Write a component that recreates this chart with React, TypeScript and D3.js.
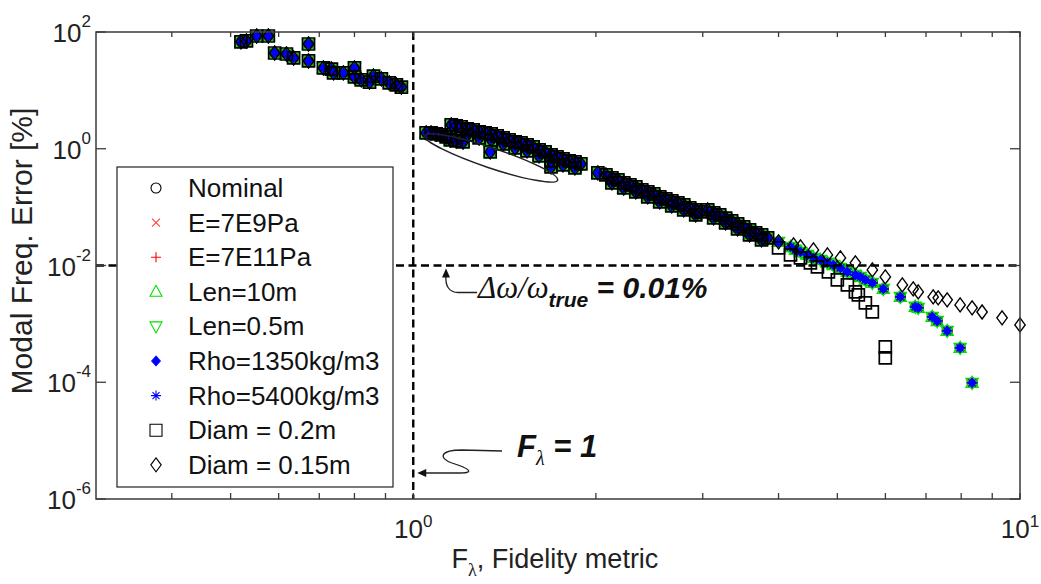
import React from 'react';
import * as d3 from 'd3';

const W = 1041;
const H = 584;
const PL = 96, PR = 1020, PT = 32, PB = 499;

// ---------- axis ticks ----------
const xMinorTicks = [0.4, 0.5, 0.6, 0.7, 0.8, 0.9, 2, 3, 4, 5, 6, 7, 8, 9];
const xMajorTicks = [1, 10];
const xTickExps = ['0', '1'];
const yMajorTicks = [1e-6, 1e-4, 1e-2, 1, 1e2];
const yTickExps = ['-6', '-4', '-2', '0', '2'];

// ---------- data: points shared by all nine cases ----------
const fShared = [
  0.52, 0.531, 0.552, 0.577, 0.591, 0.618, 0.635, 0.672, 0.672, 0.711, 0.733, 0.739, 0.767, 0.8, 0.8,
  0.821, 0.847, 0.86, 0.886, 0.913, 0.938, 0.956,
  1.05, 1.07, 1.091, 1.112, 1.133, 1.151, 1.177, 1.208, 1.339, 1.687,
  1.155, 1.177, 1.199, 1.227, 1.255, 1.284, 1.313, 1.344, 1.375, 1.406, 1.438, 1.472, 1.505, 1.54,
  1.576, 1.612, 1.649, 1.687, 1.725, 1.765, 1.806, 1.847, 1.889,
  1.227, 1.284, 1.344, 1.406, 1.472, 1.54, 1.612, 1.687, 1.765, 1.847,
  2.015,
  2.077, 2.125, 2.174, 2.223, 2.275, 2.327, 2.38, 2.435, 2.491, 2.548, 2.607, 2.667, 2.729, 2.791,
  2.855, 2.921, 2.977,
  2.125, 2.223, 2.327, 2.435, 2.548, 2.667, 2.791, 2.921,
  3.057, 3.127, 3.199, 3.272, 3.347, 3.424, 3.503, 3.583, 3.666, 3.75, 3.837,
  3.127, 3.272, 3.424, 3.583, 3.75,
];
const errShared = [
  68, 70.2, 85.4, 85.4, 43.7, 42.0, 35.9, 62.3, 31.9, 24.2, 23.2, 19.9, 19.9, 24.2, 17.0,
  15.1, 13.9, 17.6, 15.7, 13.4, 12.4, 11.4,
  1.865, 1.865, 1.792, 1.723, 1.592, 1.415, 1.36, 1.307, 0.882, 0.488,
  2.556, 2.457, 2.362, 2.183, 2.099, 1.94, 1.865, 1.792, 1.657, 1.531, 1.415, 1.307, 1.257, 1.162,
  1.074, 0.954, 0.882, 0.783, 0.724, 0.669, 0.618, 0.594, 0.549,
  1.723, 1.531, 1.415, 1.208, 1.032, 0.917, 0.753, 0.618, 0.528, 0.469,
  0.385,
  0.356, 0.316, 0.292, 0.26, 0.24, 0.222, 0.197, 0.182, 0.168, 0.15, 0.138, 0.128, 0.118, 0.109,
  0.0969, 0.0896, 0.0828,
  0.26, 0.213, 0.182, 0.15, 0.123, 0.105, 0.0896, 0.0735,
  0.0896, 0.0796, 0.0735, 0.065, 0.058, 0.0515, 0.0458, 0.0407, 0.0361, 0.0334, 0.0297,
  0.0653, 0.0536, 0.0423, 0.0334, 0.0274,
];

// tail of the material / length cases
const fTailMain = [
  4.0, 4.186, 4.266, 4.347, 4.463, 4.566, 4.69, 4.815, 4.925, 5.058, 5.194, 5.354, 5.456, 5.561,
  5.71, 5.953, 6.35, 6.72, 6.796, 7.166, 7.304, 7.585, 7.967, 8.338,
];
const errTailMain = [
  0.0254, 0.0208, 0.0185, 0.0171, 0.0152, 0.0135, 0.0125, 0.0111, 0.0102, 0.0091, 0.00777, 0.0069,
  0.00638, 0.00567, 0.00504, 0.00397, 0.0029, 0.00196, 0.00188, 0.00132, 0.00112, 0.000759,
  0.000388, 0.0000977,
];
// tail of Diam = 0.2m
const fTailD02 = [4.0, 4.186, 4.347, 4.514, 4.636, 4.833, 5.0, 5.194, 5.354, 5.415, 5.561, 5.71, 5.998, 5.998];
const errTailD02 = [
  0.02, 0.0152, 0.0135, 0.0111, 0.00946, 0.00777, 0.00567, 0.00465, 0.00353, 0.00314, 0.00229,
  0.0016, 0.000404, 0.000262,
];
// tail of Diam = 0.15m
const fTailD015 = [
  4.0, 4.234, 4.347, 4.566, 4.815, 5.058, 5.354, 5.71, 5.998, 6.398, 6.668, 6.796, 7.193, 7.331,
  7.585, 7.967, 8.338, 8.66, 9.342, 10.0,
];
const errTailD015 = [
  0.0254, 0.0225, 0.0208, 0.0185, 0.0152, 0.0135, 0.0111, 0.00841, 0.00638, 0.00465, 0.00397,
  0.00353, 0.0029, 0.00279, 0.00258, 0.00211, 0.00188, 0.0016, 0.00127, 0.000961,
];

// ---------- series ----------
const seriesNames = [
  'Nominal', 'E=7E9Pa', 'E=7E11Pa', 'Len=10m', 'Len=0.5m', 'Rho=1350kg/m3', 'Rho=5400kg/m3',
  'Diam = 0.2m', 'Diam = 0.15m',
];
const seriesMarkers = ['circle', 'x', 'plus', 'triUp', 'triDown', 'dot', 'star', 'square', 'diamond'];
const seriesColors = ['#000000', '#ff4040', '#ff0000', '#00e000', '#00e000', '#0000ff', '#0000ff', '#000000', '#000000'];
const seriesTails = ['main', 'main', 'main', 'main', 'main', 'main', 'main', 'd02', 'd015'];

const markerD: Record<string, string> = {
  circle: 'M5,0A5,5 0 1,1 -5,0A5,5 0 1,1 5,0Z',
  x: 'M-4,-4L4,4M-4,4L4,-4',
  plus: 'M-5,0L5,0M0,-5L0,5',
  triUp: 'M0,-6.5L6,4.5L-6,4.5Z',
  triDown: 'M0,6.5L6,-4.5L-6,-4.5Z',
  dot: 'M0,-4.8L4.3,0L0,4.8L-4.3,0Z',
  star: 'M-5,0L5,0M0,-5L0,5M-3.5,-3.5L3.5,3.5M-3.5,3.5L3.5,-3.5',
  square: 'M-6,-6H6V6H-6Z',
  diamond: 'M0,-7L5.2,0L0,7L-5.2,0Z',
};
const markerStroke: Record<string, number> = {
  circle: 1.3, x: 1.2, plus: 1.2, triUp: 1.4, triDown: 1.4, dot: 1, star: 1.2, square: 1.7, diamond: 1.4,
};

const SANS = '"Liberation Sans", Arial, Helvetica, sans-serif';
const SERIF = '"Liberation Serif", "Times New Roman", serif';

function Marker({ type, color, tx, ty, sw }: { type: string; color: string; tx: number; ty: number; sw?: number }) {
  const filled = type === 'dot';
  return (
    <path
      d={markerD[type]}
      transform={`translate(${tx},${ty})`}
      fill={filled ? color : 'none'}
      stroke={color}
      strokeWidth={sw ?? markerStroke[type]}
    />
  );
}

export default function App() {
  const x = d3.scaleLog().domain([0.3, 10]).range([PL, PR]);
  const y = d3.scaleLog().domain([1e-6, 1e2]).range([PB, PT]);

  const seriesPts = seriesNames.map((_, i) => {
    const tail = seriesTails[i];
    const ft = tail === 'main' ? fTailMain : tail === 'd02' ? fTailD02 : fTailD015;
    const et = tail === 'main' ? errTailMain : tail === 'd02' ? errTailD02 : errTailD015;
    const fs = fShared.concat(ft);
    const es = errShared.concat(et);
    return fs.map((f, k) => [f, es[k]] as [number, number]);
  });

  const x1 = x(1);
  const y01 = y(0.01);

  // legend geometry
  const lgX = 117, lgY = 167, lgW = 276, lgH = 320;
  const rowH = 34.6;

  // ellipse annotation (data-anchored)
  const ex = x(1.344), ey = y(0.696);

  return (
    <svg width={W} height={H} style={{ position: 'absolute', left: 0, top: 0, background: '#fff' }}>
      <rect x={0} y={0} width={W} height={H} fill="#fff" />

      {/* data */}
      {seriesPts.map((pts, i) => (
        <g key={seriesNames[i]}>
          {pts.map(([f, e], k) => (
            <Marker key={k} type={seriesMarkers[i]} color={seriesColors[i]} tx={x(f)} ty={y(e)} />
          ))}
        </g>
      ))}

      {/* reference dashed lines */}
      <line x1={PL} x2={PR} y1={y01} y2={y01} stroke="#000" strokeWidth={2.4} strokeDasharray="8,4.5" />
      <line x1={x1} x2={x1} y1={PT} y2={PB} stroke="#000" strokeWidth={2.4} strokeDasharray="8,4.5" />

      {/* frame */}
      <rect x={PL} y={PT} width={PR - PL} height={PB - PT} fill="none" stroke="#3a3a3a" strokeWidth={1.5} />

      {/* x ticks */}
      {xMinorTicks.concat(xMajorTicks).map((t) => (
        <g key={'xt' + t}>
          <line x1={x(t)} x2={x(t)} y1={PB} y2={PB - 6} stroke="#3a3a3a" strokeWidth={1.3} />
          <line x1={x(t)} x2={x(t)} y1={PT} y2={PT + 5} stroke="#3a3a3a" strokeWidth={1.3} />
        </g>
      ))}
      {/* y ticks */}
      {yMajorTicks.map((t) => (
        <g key={'yt' + t}>
          <line x1={PL} x2={PL + 10} y1={y(t)} y2={y(t)} stroke="#3a3a3a" strokeWidth={1.3} />
          <line x1={PR} x2={PR - 10} y1={y(t)} y2={y(t)} stroke="#3a3a3a" strokeWidth={1.3} />
        </g>
      ))}

      {/* tick labels */}
      {xMajorTicks.map((t, i) => (
        <text key={'xl' + t} x={x(t)} y={538} textAnchor="middle" fontFamily={SANS} fontSize={26} fill="#222">
          10<tspan dy={-11} fontSize={17}>{xTickExps[i]}</tspan>
        </text>
      ))}
      {yMajorTicks.map((t, i) => (
        <text key={'yl' + t} x={91} y={y(t) + 10} textAnchor="end" fontFamily={SANS} fontSize={26} fill="#222">
          10<tspan dy={-15} fontSize={17}>{yTickExps[i]}</tspan>
        </text>
      ))}

      {/* axis labels */}
      <text x={555} y={568} textAnchor="middle" fontFamily={SANS} fontSize={27} fill="#222">
        F<tspan dy={8} fontSize={18} fontFamily={SERIF}>λ</tspan>
        <tspan dy={-8}>, Fidelity metric</tspan>
      </text>
      <text
        transform="translate(32,251) rotate(-90)"
        textAnchor="middle"
        fontFamily={SANS}
        fontSize={30}
        fill="#222"
      >
        Modal Freq. Error [%]
      </text>

      {/* ellipse */}
      <ellipse
        cx={ex}
        cy={ey}
        rx={70}
        ry={10}
        transform={`rotate(18.5,${ex},${ey})`}
        fill="none"
        stroke="#222"
        strokeWidth={1.5}
      />

      {/* legend */}
      <rect x={lgX} y={lgY} width={lgW} height={lgH} fill="#fff" stroke="#222" strokeWidth={1.2} />
      {seriesNames.map((n, i) => {
        const cy = 188 + i * rowH;
        return (
          <g key={'lg' + n}>
            <Marker type={seriesMarkers[i]} color={seriesColors[i]} tx={156} ty={cy} sw={1.1} />
            <text x={188} y={cy + 9} fontFamily={SANS} fontSize={26} fill="#111">
              {n}
            </text>
          </g>
        );
      })}

      {/* Δω annotation */}
      <path
        d={`M477,${y01 + 27} L458,${y01 + 27} C449,${y01 + 27} 445,${y01 + 20} 446,${y01 + 10}`}
        fill="none"
        stroke="#222"
        strokeWidth={1.3}
      />
      <path d={`M446,${y01 + 3} L442,${y01 + 12} L450,${y01 + 12} Z`} fill="#111" />
      <text x={478} y={298} fill="#111">
        <tspan fontFamily={SERIF} fontStyle="italic" fontSize={31}>Δω/ω</tspan>
        <tspan fontFamily={SANS} fontStyle="italic" fontWeight="bold" fontSize={21} dy={9}>true</tspan>
        <tspan fontFamily={SANS} fontStyle="italic" fontWeight="bold" fontSize={30} dy={-9}> = 0.01%</tspan>
      </text>

      {/* F_λ = 1 annotation */}
      <path
        d="M502,451 L462,450 C440,450 438,458 452,463 C468,468 476,473 460,473 L424,473"
        fill="none"
        stroke="#222"
        strokeWidth={1.3}
      />
      <path d={`M${x1 + 4},473 L${x1 + 13},469 L${x1 + 13},477 Z`} fill="#111" />
      <text x={517} y={457} fill="#111" fontFamily={SANS} fontWeight="bold" fontStyle="italic" fontSize={31}>
        F
        <tspan dy={8} fontFamily={SERIF} fontStyle="italic" fontWeight="normal" fontSize={20}>λ</tspan>
        <tspan dy={-8}> = 1</tspan>
      </text>
    </svg>
  );
}
